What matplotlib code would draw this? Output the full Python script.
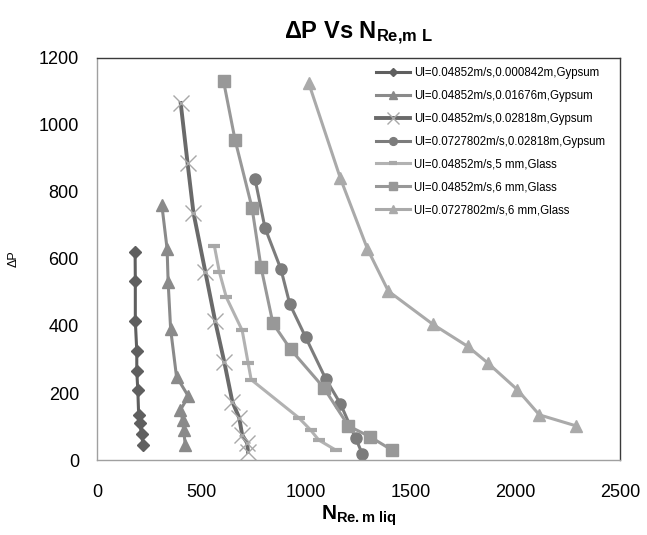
import matplotlib
matplotlib.use("Agg")
import matplotlib.pyplot as plt

plt.rcParams['font.family'] = ['Liberation Sans', 'DejaVu Sans']
plt.rcParams['mathtext.fontset'] = 'custom'
plt.rcParams['mathtext.rm'] = 'Liberation Sans'
plt.rcParams['mathtext.bf'] = 'Liberation Sans:bold'
plt.rcParams['mathtext.it'] = 'Liberation Sans:italic'

labels = [
    "Ul=0.04852m/s,0.000842m,Gypsum",
    "Ul=0.04852m/s,0.01676m,Gypsum",
    "Ul=0.04852m/s,0.02818m,Gypsum",
    "Ul=0.0727802m/s,0.02818m,Gypsum",
    "Ul=0.04852m/s,5 mm,Glass",
    "Ul=0.04852m/s,6 mm,Glass",
    "Ul=0.0727802m/s,6 mm,Glass",
]

s1_x = [182, 183, 183, 190, 190, 195, 199, 204, 213, 220]
s1_y = [620, 535, 415, 325, 265, 208, 135, 110, 78, 45]

s2_x = [310, 335, 340, 352, 380, 437, 399, 409, 414, 422]
s2_y = [760, 630, 530, 390, 249, 190, 150, 120, 90, 45]

s3_x = [400, 433, 461, 518, 565, 608, 647, 680, 694, 718, 722]
s3_y = [1065, 885, 738, 561, 414, 294, 174, 126, 75, 51, 24]

s4_x = [756, 803, 879, 922, 998, 1093, 1164, 1236, 1269]
s4_y = [837, 693, 570, 465, 366, 243, 168, 66, 18]

s5_x = [561, 585, 618, 694, 722, 737, 965, 1021, 1060, 1141]
s5_y = [639, 561, 486, 387, 291, 240, 126, 90, 60, 30]

s6_x = [605, 660, 741, 784, 841, 926, 1084, 1202, 1307, 1410]
s6_y = [1130, 955, 753, 576, 408, 330, 216, 102, 69, 30]

s7_x = [1012, 1164, 1293, 1393, 1606, 1773, 1868, 2010, 2115, 2291]
s7_y = [1125, 840, 630, 504, 405, 339, 290, 210, 135, 102]

x_ticks = [0, 500, 1000, 1500, 2000, 2500]
y_ticks = [0, 200, 400, 600, 800, 1000, 1200]

fig = plt.figure(figsize=(6.47, 5.35), dpi=100)
ax = fig.add_axes([0.150, 0.140, 0.808, 0.752])

ax.plot(s1_x, s1_y, color='#5f5f5f', lw=2.2, marker='D', ms=6, mfc='#5f5f5f', mec='#5f5f5f', label=labels[0])
ax.plot(s2_x, s2_y, color='#8a8a8a', lw=2.2, marker='^', ms=8, mfc='#8a8a8a', mec='#8a8a8a', label=labels[1])
ax.plot(s3_x, s3_y, color='#6a6a6a', lw=2.8, marker='x', ms=12, mew=1.0, mec='#a8a8a8', label=labels[2])
ax.plot(s4_x, s4_y, color='#7c7c7c', lw=2.2, marker='o', ms=8, mfc='#7c7c7c', mec='#7c7c7c', label=labels[3])
ax.plot(s5_x, s5_y, color='#b2b2b2', lw=2.2, marker='_', ms=9, mew=3, mec='#a8a8a8', label=labels[4])
ax.plot(s6_x, s6_y, color='#989898', lw=2.2, marker='s', ms=8, mfc='#989898', mec='#989898', label=labels[5])
ax.plot(s7_x, s7_y, color='#aaaaaa', lw=2.2, marker='^', ms=9, mfc='#aaaaaa', mec='#aaaaaa', label=labels[6])

ax.set_xlim(0, 2500)
ax.set_ylim(0, 1200)
ax.set_xticks(x_ticks)
ax.set_yticks(y_ticks)
ax.tick_params(axis='x', length=0, labelsize=13, pad=17)
ax.tick_params(axis='y', length=0, labelsize=13, pad=13)

for side in ['top', 'right']:
    ax.spines[side].set_color('#3a3a3a')
    ax.spines[side].set_linewidth(1.0)
for side in ['left', 'bottom']:
    ax.spines[side].set_color('#a0a0a0')
    ax.spines[side].set_linewidth(1.0)

ax.set_title(r"$\mathbf{\Delta P\ Vs\ N_{Re{,}m\ L}}$", fontsize=17, pad=14)
ax.set_xlabel(r"$\mathbf{N_{Re.m\ liq}}$", fontsize=15, labelpad=2)
ax.set_ylabel("ΔP", fontsize=9, labelpad=14)

leg = ax.legend(loc='upper left', bbox_to_anchor=(0.52, 0.995), frameon=False,
                fontsize=8.3, handlelength=3.0, labelspacing=0.95, handletextpad=0.3,
                borderaxespad=0.2, markerscale=0.7)

fig.savefig("out.png", dpi=100)
